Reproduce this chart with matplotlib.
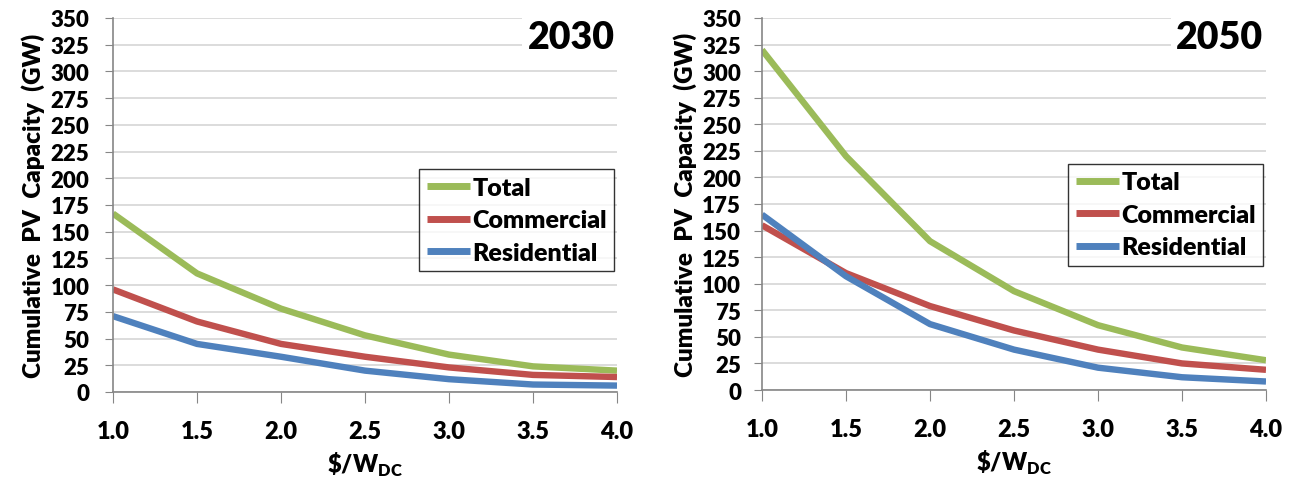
import matplotlib
matplotlib.use("Agg")
import matplotlib.pyplot as plt

plt.rcParams["font.family"] = ["Lato", "DejaVu Sans"]
plt.rcParams["font.weight"] = "heavy"
plt.rcParams["axes.labelweight"] = "heavy"
plt.rcParams["mathtext.fontset"] = "custom"
plt.rcParams["mathtext.bf"] = "Lato:heavy"
plt.rcParams["mathtext.rm"] = "Lato:heavy"

# price points ($/W DC)
price = [1.0, 1.5, 2.0, 2.5, 3.0, 3.5, 4.0]

# cumulative PV capacity (GW), 2030
total_2030 = [167, 111, 78, 53, 35, 24, 20]
commercial_2030 = [96, 66, 45, 33, 23, 16, 14]
residential_2030 = [71, 45, 33, 20, 12, 7, 6]

# cumulative PV capacity (GW), 2050
total_2050 = [320, 220, 140, 93, 61, 40, 28]
commercial_2050 = [155, 110, 79, 56, 38, 25, 19]
residential_2050 = [165, 107, 62, 38, 21, 12, 8]

GREEN = "#9BBB59"
RED = "#C0504D"
BLUE = "#4F81BD"
AXIS_GREY = "#868686"
GRID_GREY = "#D9D9D9"

fig = plt.figure(figsize=(12.99, 4.85), dpi=100)
ax_l = fig.add_axes([113 / 1299, 1 - 393 / 485, 504 / 1299, 374 / 485])
ax_r = fig.add_axes([762 / 1299, 1 - 391 / 485, 504 / 1299, 372 / 485])


def draw_panel(ax, year, total, commercial, residential, legend_y, ytick_pad):
    ax.plot(price, total, color=GREEN, lw=4.6, label="Total", solid_capstyle="butt")
    ax.plot(price, commercial, color=RED, lw=4.6, label="Commercial", solid_capstyle="butt")
    ax.plot(price, residential, color=BLUE, lw=4.6, label="Residential", solid_capstyle="butt")

    ax.set_xlim(1.0, 4.0)
    ax.set_ylim(0, 350)
    ax.set_xticks(price)
    ax.set_xticklabels([f"{p:.1f}" for p in price])
    ax.set_yticks(range(0, 351, 25))

    ax.grid(axis="y", color=GRID_GREY, lw=1.3)
    ax.set_axisbelow(True)
    for side in ("top", "right"):
        ax.spines[side].set_visible(False)
    for side in ("left", "bottom"):
        ax.spines[side].set_color(AXIS_GREY)
        ax.spines[side].set_linewidth(1.2)

    ax.tick_params(axis="y", direction="out", length=6, color=AXIS_GREY,
                   labelsize=16, pad=ytick_pad)
    ax.tick_params(axis="x", direction="out", length=8, color=AXIS_GREY,
                   labelsize=17, pad=12)

    ax.set_ylabel("Cumulative  PV  Capacity  (GW)", fontsize=17.5, labelpad=4)
    ax.set_xlabel(r"\$/W$_{\mathbf{DC}}$", fontsize=17, labelpad=6)

    ax.text(0.995, 0.995, year, transform=ax.transAxes, ha="right", va="top",
            fontsize=27, fontweight="heavy",
            bbox=dict(facecolor="white", edgecolor="none", pad=4))

    leg = ax.legend(loc="upper right", bbox_to_anchor=(0.995, legend_y),
                    fontsize=18, handlelength=1.75, handletextpad=0.08,
                    borderpad=0.3, labelspacing=0.42, borderaxespad=0,
                    fancybox=False, frameon=True)
    leg.get_frame().set_edgecolor("black")
    leg.get_frame().set_linewidth(1.0)
    for line in leg.get_lines():
        line.set_linewidth(5)


draw_panel(ax_l, "2030", total_2030, commercial_2030, residential_2030, 0.595, 11)
draw_panel(ax_r, "2050", total_2050, commercial_2050, residential_2050, 0.608, 9)

fig.savefig("out.png", dpi=100)
